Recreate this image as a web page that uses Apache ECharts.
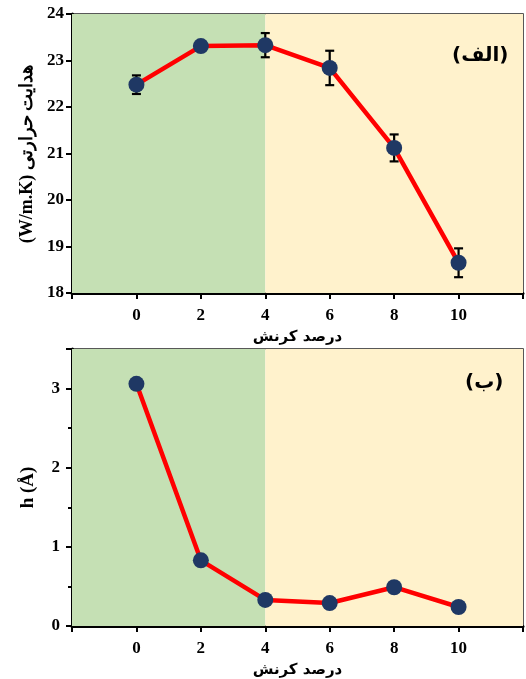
<!DOCTYPE html>
<html>
<head>
<meta charset="utf-8">
<script src="https://cdn.jsdelivr.net/npm/echarts@6/dist/echarts.min.js"></script>
<style>
  html, body { margin: 0; padding: 0; background: #fff; }
  #chart { width: 526px; height: 679px; }
</style>
</head>
<body>
<div id="chart"></div>
<script>
// strain percent
const strain = [0, 2, 4, 6, 8, 10];
// thermal conductivity (W/m.K) and its error
const kValues = [22.48, 23.31, 23.33, 22.84, 21.12, 18.65];
const kErrors = [0.2, 0.0, 0.26, 0.37, 0.29, 0.31];
// h (Å)
const hValues = [3.06, 0.83, 0.33, 0.29, 0.49, 0.24];

const serif = '"Liberation Serif", "DejaVu Serif", serif';
const faFont = '"DejaVu Sans", "Noto Sans", sans-serif';

const chartDom = document.getElementById('chart');
const myChart = echarts.init(chartDom);

function xAxisFor(gridIndex) {
  return {
    type: 'value',
    gridIndex: gridIndex,
    min: -2,
    max: 12,
    interval: 2,
    name: 'درصد کرنش',
    nameLocation: 'middle',
    nameGap: 37,
    nameTextStyle: { fontFamily: faFont, fontWeight: 'bold', fontSize: 15, color: '#000' },
    axisLine: { show: true, onZero: false, lineStyle: { color: '#000', width: 3 } },
    axisTick: { show: true, length: 6, lineStyle: { color: '#000', width: 2 } },
    axisLabel: {
      fontFamily: serif, fontWeight: 'bold', fontSize: 17, color: '#000', margin: 14,
      formatter: function (v) { return (v < 0 || v > 10) ? '' : String(v); }
    },
    splitLine: { show: false }
  };
}

const bands = {
  silent: true,
  data: [
    [{ xAxis: -2, itemStyle: { color: '#c5e0b4' } }, { xAxis: 4 }],
    [{ xAxis: 4, itemStyle: { color: '#fff2cc' } }, { xAxis: 12 }]
  ]
};

const option = {
  animation: false,
  grid: [
    { left: 72, top: 14, right: 3, height: 279, show: true, borderColor: '#222', borderWidth: 1.5, backgroundColor: 'transparent' },
    { left: 72, top: 349, right: 3, height: 281, show: true, borderColor: '#222', borderWidth: 1.5, backgroundColor: 'transparent' }
  ],
  xAxis: [xAxisFor(0), xAxisFor(1)],
  yAxis: [
    {
      type: 'value',
      gridIndex: 0,
      min: 18,
      max: 24,
      interval: 1,
      name: '(W/m.K) هدایت حرارتی',
      nameLocation: 'middle',
      nameGap: 36,
      nameTextStyle: { fontFamily: serif, fontWeight: 'bold', fontSize: 18, color: '#000' },
      axisLine: { show: true, onZero: false, lineStyle: { color: '#000', width: 3 } },
      axisTick: { show: true, length: 6, lineStyle: { color: '#000', width: 2 } },
      axisLabel: { fontFamily: serif, fontWeight: 'bold', fontSize: 17, color: '#000', margin: 8 },
      splitLine: { show: false }
    },
    {
      type: 'value',
      gridIndex: 1,
      min: 0,
      max: 3.5,
      interval: 1,
      name: 'h (Å)',
      nameLocation: 'middle',
      nameGap: 34,
      nameTextStyle: { fontFamily: serif, fontWeight: 'bold', fontSize: 19, color: '#000' },
      axisLine: { show: true, onZero: false, lineStyle: { color: '#000', width: 3 } },
      axisTick: { show: true, length: 6, lineStyle: { color: '#000', width: 2 } },
      minorTick: { show: true, splitNumber: 2, length: 4, lineStyle: { color: '#000', width: 2 } },
      axisLabel: {
        fontFamily: serif, fontWeight: 'bold', fontSize: 17, color: '#000', margin: 12,
        formatter: function (v) { return Number.isInteger(v) ? String(v) : ''; }
      },
      splitLine: { show: false }
    }
  ],
  graphic: [
    { type: 'text', left: 452, top: 46, z: 10, style: { text: '(الف)', font: 'bold 20px ' + faFont, fill: '#000' } },
    { type: 'text', left: 465, top: 373, z: 10, style: { text: '(ب)', font: 'bold 20px ' + faFont, fill: '#000' } }
  ],
  series: [
    {
      type: 'line',
      xAxisIndex: 0,
      yAxisIndex: 0,
      data: strain.map((x, i) => [x, kValues[i]]),
      lineStyle: { color: '#ff0000', width: 4.5 },
      symbol: 'circle',
      symbolSize: 16,
      itemStyle: { color: '#1f3864' },
      markArea: bands,
      z: 3
    },
    {
      type: 'custom',
      xAxisIndex: 0,
      yAxisIndex: 0,
      data: strain.map((x, i) => [x, kValues[i] - kErrors[i], kValues[i] + kErrors[i]]),
      renderItem: function (params, api) {
        const lo = api.coord([api.value(0), api.value(1)]);
        const hi = api.coord([api.value(0), api.value(2)]);
        const w = 4.5;
        const style = { stroke: '#000', lineWidth: 2.2 };
        return {
          type: 'group',
          children: [
            { type: 'line', shape: { x1: lo[0], y1: lo[1], x2: hi[0], y2: hi[1] }, style: style },
            { type: 'line', shape: { x1: lo[0] - w, y1: lo[1], x2: lo[0] + w, y2: lo[1] }, style: style },
            { type: 'line', shape: { x1: hi[0] - w, y1: hi[1], x2: hi[0] + w, y2: hi[1] }, style: style }
          ]
        };
      },
      z: 2
    },
    {
      type: 'line',
      xAxisIndex: 1,
      yAxisIndex: 1,
      data: strain.map((x, i) => [x, hValues[i]]),
      lineStyle: { color: '#ff0000', width: 4.5 },
      symbol: 'circle',
      symbolSize: 16,
      itemStyle: { color: '#1f3864' },
      markArea: bands,
      z: 3
    }
  ]
};

option && myChart.setOption(option);
window.addEventListener('resize', function () {
  myChart.resize();
});
</script>
</body>
</html>
